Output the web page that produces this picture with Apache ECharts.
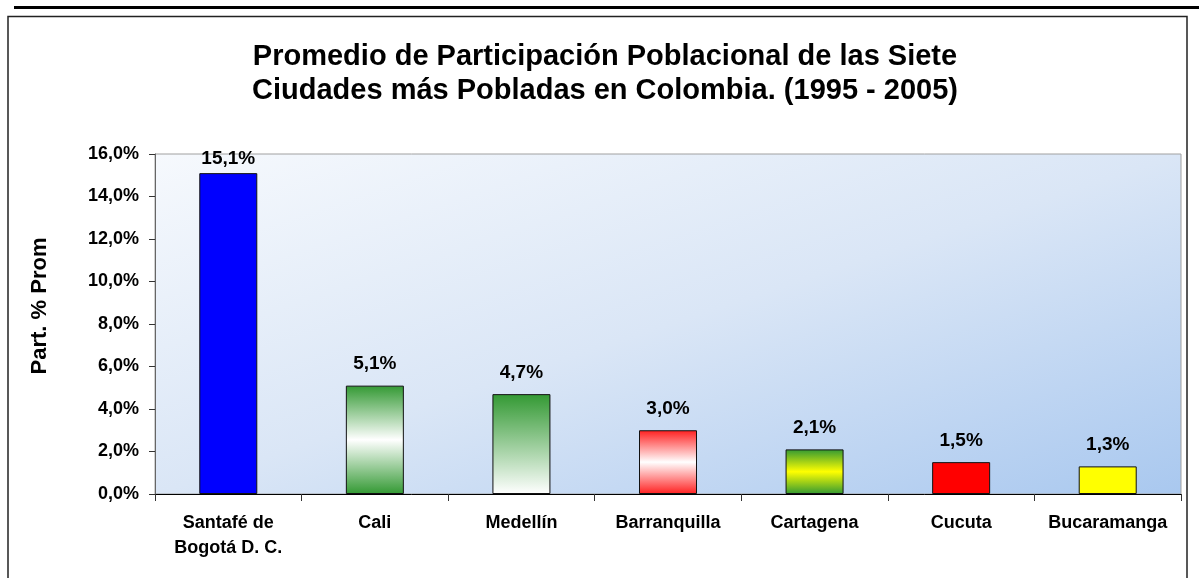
<!DOCTYPE html>
<html>
<head>
<meta charset="utf-8">
<script src="https://cdn.jsdelivr.net/npm/echarts@6/dist/echarts.min.js"></script>
<style>
    html, body { margin: 0; padding: 0; background: #fff; }
    #main { width: 1199px; height: 578px; }
</style>
</head>
<body>
<div id="main"></div>
<script>
    var ciudades = ['Santafé de\nBogotá D. C.', 'Cali', 'Medellín', 'Barranquilla', 'Cartagena', 'Cucuta', 'Bucaramanga'];
    var participacion = [15.1, 5.1, 4.7, 3.0, 2.1, 1.5, 1.3];
    var ticksY = [0, 2, 4, 6, 8, 10, 12, 14, 16];

    // rellenos de cada barra
    function vgrad(stops) {
        return new echarts.graphic.LinearGradient(0, 0, 0, 1, stops.map(function(s) {
            return { offset: s[0], color: s[1] };
        }));
    }
    var rellenos = [
        '#0000ff',
        vgrad([[0, '#339933'], [0.5, '#ffffff'], [1, '#339933']]),
        vgrad([[0, '#339933'], [1, '#ffffff']]),
        vgrad([[0, '#ff2020'], [0.5, '#ffffff'], [1, '#ff2020']]),
        vgrad([[0, '#339933'], [0.5, '#ffff00'], [1, '#339933']]),
        '#ff0000',
        '#ffff00'
    ];

    var fmt = function(v) {
        return v.toFixed(1).replace('.', ',') + '%';
    };

    var myChart = echarts.init(document.getElementById('main'));
    var option = {
        animation: false,
        textStyle: { fontFamily: 'Liberation Sans, Arial, sans-serif' },
        title: {
            text: 'Promedio de Participación Poblacional de las Siete\nCiudades más Pobladas en Colombia. (1995 - 2005)',
            left: 600,
            top: 35,
            textAlign: 'center',
            textStyle: {
                fontSize: 29,
                fontWeight: 'bold',
                color: '#000',
                lineHeight: 34
            }
        },
        graphic: [{
            type: 'rect',
            shape: { x: 14, y: 6, width: 1185, height: 3 },
            style: { fill: '#000' },
            silent: true
        }, {
            type: 'polyline',
            shape: { points: [[8, 590], [8, 16.5], [1187, 16.5], [1187, 590]] },
            style: { stroke: '#222', lineWidth: 1.5, fill: null },
            silent: true
        }],
        grid: {
            left: 155,
            top: 154,
            right: 18,
            bottom: 84,
            show: true,
            borderColor: '#a0a0a0',
            borderWidth: 1,
            // degradado diagonal (esquina sup. izq. blanca, inf. der. azul)
            backgroundColor: new echarts.graphic.LinearGradient(155, 154, 358, 767, [
                { offset: 0, color: '#f6f9fd' },
                { offset: 0.5, color: '#dae6f6' },
                { offset: 1, color: '#a9c8ef' }
            ], true)
        },
        xAxis: {
            type: 'category',
            data: ciudades,
            axisLine: { lineStyle: { color: '#000', width: 1 } },
            axisTick: { show: true, length: 7, lineStyle: { color: '#333' } },
            axisLabel: {
                interval: 0,
                margin: 17,
                color: '#000',
                fontSize: 18,
                fontWeight: 'bold',
                lineHeight: 25
            }
        },
        yAxis: {
            type: 'value',
            min: 0,
            max: 16,
            interval: 2,
            name: 'Part. % Prom',
            nameLocation: 'middle',
            nameGap: 104,
            nameRotate: 90,
            nameTextStyle: {
                fontSize: 22,
                fontWeight: 'bold',
                color: '#000',
                padding: [0, 0, 0, 36]
            },
            axisLine: { show: true, lineStyle: { color: '#666', width: 1 } },
            axisTick: { show: true, length: 6, lineStyle: { color: '#333' } },
            splitLine: { show: false },
            axisLabel: {
                margin: 16,
                color: '#000',
                fontSize: 18,
                fontWeight: 'bold',
                formatter: function(v) {
                    return ticksY.indexOf(v) >= 0 ? fmt(v) : '';
                }
            }
        },
        series: [{
            type: 'bar',
            barWidth: 58,
            data: participacion.map(function(v, i) {
                var d = {
                    value: v,
                    itemStyle: { color: rellenos[i], borderColor: '#111', borderWidth: 1 }
                };
                if (i === 0) {
                    d.label = { distance: 5 };
                }
                return d;
            }),
            label: {
                show: true,
                position: 'top',
                distance: 12,
                color: '#000',
                fontSize: 19,
                fontWeight: 'bold',
                formatter: function(p) {
                    return fmt(p.value);
                }
            }
        }]
    };
    myChart.setOption(option);
</script>
</body>
</html>
